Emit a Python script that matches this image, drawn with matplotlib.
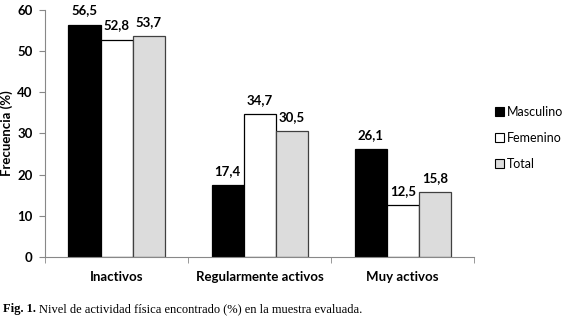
import matplotlib.pyplot as plt
import numpy as np
from matplotlib.patches import Patch

categorias = ["Inactivos", "Regularmente activos", "Muy activos"]
series = ["Masculino", "Femenino", "Total"]
masculino = [56.5, 17.4, 26.1]
femenino = [52.8, 34.7, 12.5]
total = [53.7, 30.5, 15.8]
etiquetas = {
    "Masculino": ["56,5", "17,4", "26,1"],
    "Femenino": ["52,8", "34,7", "12,5"],
    "Total": ["53,7", "30,5", "15,8"],
}

colores = ["black", "white", "#dcdcdc"]
bordes = ["black", "black", "#404040"]

fig = plt.figure(figsize=(5.7, 3.17), dpi=100)
ax = fig.add_axes([0.079, 0.19, 0.753, 0.778])

x = np.arange(len(categorias))
w = 0.224
fuente = "Lato"
for i, (nombre, vals) in enumerate(zip(series, [masculino, femenino, total])):
    pos = x + (i - 1) * w
    ax.bar(pos, vals, w, color=colores[i], edgecolor=bordes[i], linewidth=0.9)
    for p, v, t in zip(pos, vals, etiquetas[nombre]):
        ax.text(p, v + 2.0, t, ha="center", va="bottom", fontsize=9.5,
                fontweight="bold", family=fuente)

ax.set_xlim(-0.5, 2.5)
ax.set_ylim(0, 60)
ax.set_yticks(range(0, 61, 10))
ax.set_xticks(x)
ax.set_xticklabels(categorias)
ax.set_xticks([-0.5, 0.5, 1.5, 2.5], minor=True)
ax.tick_params(axis="x", which="major", length=0, pad=10)
ax.tick_params(axis="x", which="minor", length=4, color="#888888")
ax.tick_params(axis="y", length=4, color="#888888", pad=5)
for lab in ax.get_xticklabels() + ax.get_yticklabels():
    lab.set_fontweight("bold")
    lab.set_family(fuente)
    lab.set_fontsize(9.5)
ax.set_ylabel("Frecuencia (%)", fontsize=9.5, fontweight="bold", family=fuente, labelpad=3)

for s in ["top", "right"]:
    ax.spines[s].set_visible(False)
ax.spines["left"].set_color("#888888")
ax.spines["bottom"].set_color("#888888")

handles = [Patch(facecolor=c, edgecolor="black", linewidth=0.8) for c in colores]
fig.legend(handles, series, loc="upper left", bbox_to_anchor=(0.868, 0.665),
           frameon=False, prop={"family": fuente, "size": 9},
           handlelength=0.7, handleheight=0.7, handletextpad=0.3, labelspacing=1.1,
           borderpad=0, borderaxespad=0)

fig.text(0.005, 0.015, "Fig. 1.", fontsize=9, fontweight="bold", family="Liberation Serif")
fig.text(0.068, 0.015, "Nivel de actividad física encontrado (%) en la muestra evaluada.",
         fontsize=9, family="Liberation Serif")

fig.savefig("out.png", dpi=100)
